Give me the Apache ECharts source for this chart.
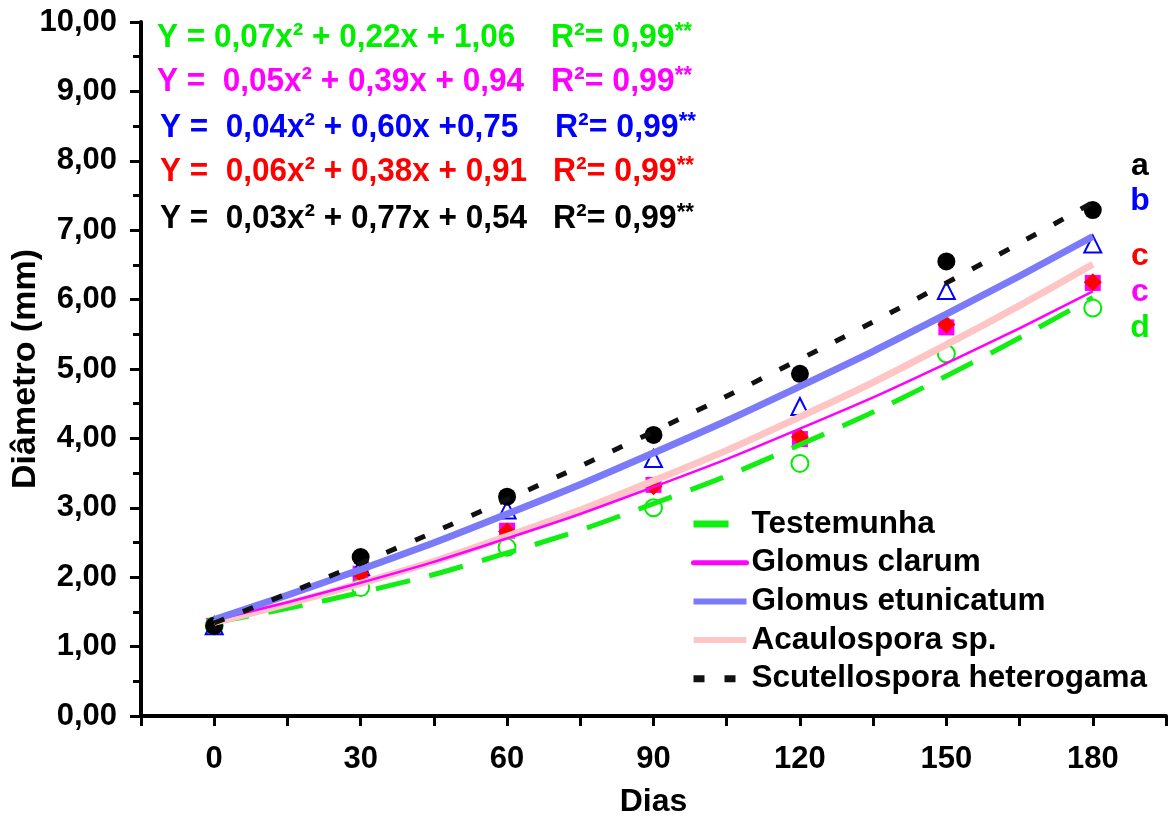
<!DOCTYPE html>
<html>
<head>
<meta charset="utf-8">
<script src="https://cdn.jsdelivr.net/npm/echarts@6/dist/echarts.min.js"></script>
<style>html,body{margin:0;padding:0;background:#fff;}#c{width:1176px;height:817px;}</style>
</head>
<body>
<div id="c"></div>
<script>
// ---- data ----
const days = [0, 30, 60, 90, 120, 150, 180];
const seriesNames = ['Testemunha', 'Glomus clarum', 'Glomus etunicatum', 'Acaulospora sp.', 'Scutellospora heterogama'];
// observed means
const obsTestemunha     = [1.30, 1.85, 2.43, 3.00, 3.64, 5.22, 5.88];
const obsClarum         = [1.30, 2.05, 2.67, 3.33, 3.99, 5.60, 6.24];
const obsEtunicatum     = [1.30, 2.15, 2.97, 3.71, 4.46, 6.13, 6.80];
const obsAcaulospora    = [1.30, 2.05, 2.66, 3.31, 4.02, 5.64, 6.25];
const obsScutellospora  = [1.30, 2.29, 3.16, 4.05, 4.93, 6.55, 7.29];
// fitted trend curves
const fitTestemunha     = [1.35, 1.78, 2.35, 3.06, 3.91, 4.90, 6.03];
const fitClarum         = [1.38, 1.92, 2.56, 3.30, 4.14, 5.08, 6.12];
const fitEtunicatum     = [1.39, 2.11, 2.91, 3.79, 4.75, 5.79, 6.91];
const fitAcaulospora    = [1.35, 1.91, 2.59, 3.39, 4.31, 5.35, 6.51];
const fitScutellospora  = [1.34, 2.20, 3.12, 4.10, 5.14, 6.24, 7.40];
// equations & significance letters
const equations = [
  'Y = 0,07x\u00b2 + 0,22x + 1,06',
  'Y =  0,05x\u00b2 + 0,39x + 0,94',
  'Y =  0,04x\u00b2 + 0,60x +0,75',
  'Y =  0,06x\u00b2 + 0,38x + 0,91',
  'Y =  0,03x\u00b2 + 0,77x + 0,54'
];
const r2Text = ['R\u00b2= 0,99', 'R\u00b2= 0,99', 'R\u00b2= 0,99', 'R\u00b2= 0,99', 'R\u00b2= 0,99'];
const letters = ['a', 'b', 'c', 'c', 'd'];

const FONT = '"Liberation Sans", Arial, sans-serif';
const pair = (ys) => days.map((d, i) => [d, ys[i]]);

const chart = echarts.init(document.getElementById('c'), null, {renderer: 'canvas'});

const eqColors = ['#00ee00', '#ff00ff', '#0000ff', '#ff0000', '#000000'];
const eqX = [157, 157, 160, 160, 160];
const eqY = [38, 82, 128, 172, 219];
const r2X = [551, 551, 555, 553, 553];
const letterColors = ['#000000', '#0000ff', '#ff0000', '#ff00ff', '#00ee00'];
const letterY = [166, 201, 256, 292, 328];

const graphics = [];
equations.forEach((t, i) => {
  graphics.push({type: 'text', z: 100, x: eqX[i], y: eqY[i], scaleX: 0.955,
    style: {text: t, x: 0, y: 0, fill: eqColors[i], font: 'bold 33px ' + FONT, textVerticalAlign: 'middle'}});
  graphics.push({type: 'text', z: 100, x: r2X[i], y: eqY[i], scaleX: 0.97,
    style: {text: '{a|' + r2Text[i] + '}{s|**}', x: 0, y: 0, textVerticalAlign: 'middle',
    rich: {a: {fill: eqColors[i], color: eqColors[i], fontSize: 33, fontWeight: 'bold', fontFamily: FONT},
           s: {fill: eqColors[i], color: eqColors[i], fontSize: 23, fontWeight: 'bold', fontFamily: FONT, verticalAlign: 'top'}}}});
});
letters.forEach((t, i) => {
  graphics.push({type: 'text', z: 100, style: {text: t, x: 1140, y: letterY[i], fill: letterColors[i],
    font: 'bold 32px ' + FONT, textAlign: 'center', textVerticalAlign: 'middle'}});
});

const fitStyles = [
  {color: '#11ee11', width: 5, legendWidth: 7, type: [35, 20], z: 3},
  {color: '#ff00ff', width: 2.5, legendWidth: 5, type: 'solid', z: 5},
  {color: '#7b7bfa', width: 7, legendWidth: 6, type: 'solid', z: 6},
  {color: '#ffc4c4', width: 7, legendWidth: 6, type: 'solid', z: 4},
  {color: '#111111', width: 5, legendWidth: 7, type: [11, 20], z: 7}
];
const fits = [fitTestemunha, fitClarum, fitEtunicatum, fitAcaulospora, fitScutellospora];
const obs = [obsTestemunha, obsClarum, obsEtunicatum, obsAcaulospora, obsScutellospora];
const markers = [
  {symbol: 'circle', size: 17, fill: '#ffffff', stroke: '#00ee00', bw: 2, z: 2},
  {symbol: 'rect', size: 16, fill: '#ff00ff', stroke: '#ff00ff', bw: 0, z: 1},
  {symbol: 'triangle', size: 17, fill: '#ffffff', stroke: '#0000ff', bw: 2, z: 2},
  {symbol: 'diamond', size: 18, fill: '#ff0000', stroke: '#ff0000', bw: 0, z: 2},
  {symbol: 'circle', size: 18, fill: '#000000', stroke: '#000000', bw: 0, z: 2}
];

const series = [];
obs.forEach((o, i) => {
  const m = markers[i];
  series.push({type: 'scatter', name: seriesNames[i] + ' obs', data: pair(o), symbol: m.symbol, symbolSize: m.size,
    z: m.z, itemStyle: {color: m.fill, borderColor: m.stroke, borderWidth: m.bw, opacity: 1}, silent: true});
});
fits.forEach((f, i) => {
  const s = fitStyles[i];
  series.push({type: 'line', name: seriesNames[i], data: pair(f), smooth: true, showSymbol: false, symbol: 'none',
    z: s.z, lineStyle: {color: s.color, width: s.width, type: s.type, cap: 'butt'}, itemStyle: {color: s.color}});
});

const legendData = seriesNames.map((n, i) => ({
  name: n,
  itemStyle: {opacity: 0},
  lineStyle: {color: fitStyles[i].color, width: fitStyles[i].legendWidth, type: fitStyles[i].type,
              cap: i === 1 ? 'round' : 'butt'}
}));

chart.setOption({
  animation: false,
  backgroundColor: '#ffffff',
  grid: {left: 141, right: 10, top: 22, bottom: 101, containLabel: false, outerBoundsMode: 'none'},
  xAxis: {
    type: 'value', min: -15, max: 195, interval: 15,
    name: 'Dias', nameLocation: 'middle', nameGap: 70, nameMoveOverlap: false,
    nameTextStyle: {color: '#000', fontSize: 32, fontWeight: 'bold', fontFamily: FONT},
    axisLine: {show: true, onZero: false, lineStyle: {color: '#000', width: 4}},
    axisTick: {show: true, length: 10, lineStyle: {color: '#000', width: 3}},
    axisLabel: {color: '#000', fontSize: 31, fontWeight: 'bold', fontFamily: FONT, margin: 28,
      formatter: v => (v >= 0 && v <= 180 && v % 30 === 0) ? String(v) : ''},
    splitLine: {show: false}
  },
  yAxis: {
    type: 'value', min: 0, max: 10, interval: 1,
    name: 'Diâmetro (mm)', nameLocation: 'middle', nameGap: 98, nameRotate: 90, nameMoveOverlap: false,
    nameTextStyle: {color: '#000', fontSize: 34, fontWeight: 'bold', fontFamily: FONT},
    axisLine: {show: true, onZero: false, lineStyle: {color: '#000', width: 4}},
    axisTick: {show: true, length: 11, lineStyle: {color: '#000', width: 3}},
    minorTick: {show: true, splitNumber: 2, length: 8, lineStyle: {color: '#000', width: 3}},
    axisLabel: {color: '#000', fontSize: 31, fontWeight: 'bold', fontFamily: FONT, margin: 24,
      formatter: v => v.toFixed(2).replace('.', ',')},
    splitLine: {show: false}
  },
  legend: {
    data: legendData, orient: 'vertical', left: 690, top: 508, padding: 0,
    itemWidth: 53, itemHeight: 14, itemGap: 6.7,
    itemStyle: {opacity: 0},
    textStyle: {color: '#000', fontSize: 31.5, fontWeight: 'bold', fontFamily: FONT, lineHeight: 32},
    selectedMode: false
  },
  graphic: graphics,
  series: series
});
</script>
</body>
</html>
